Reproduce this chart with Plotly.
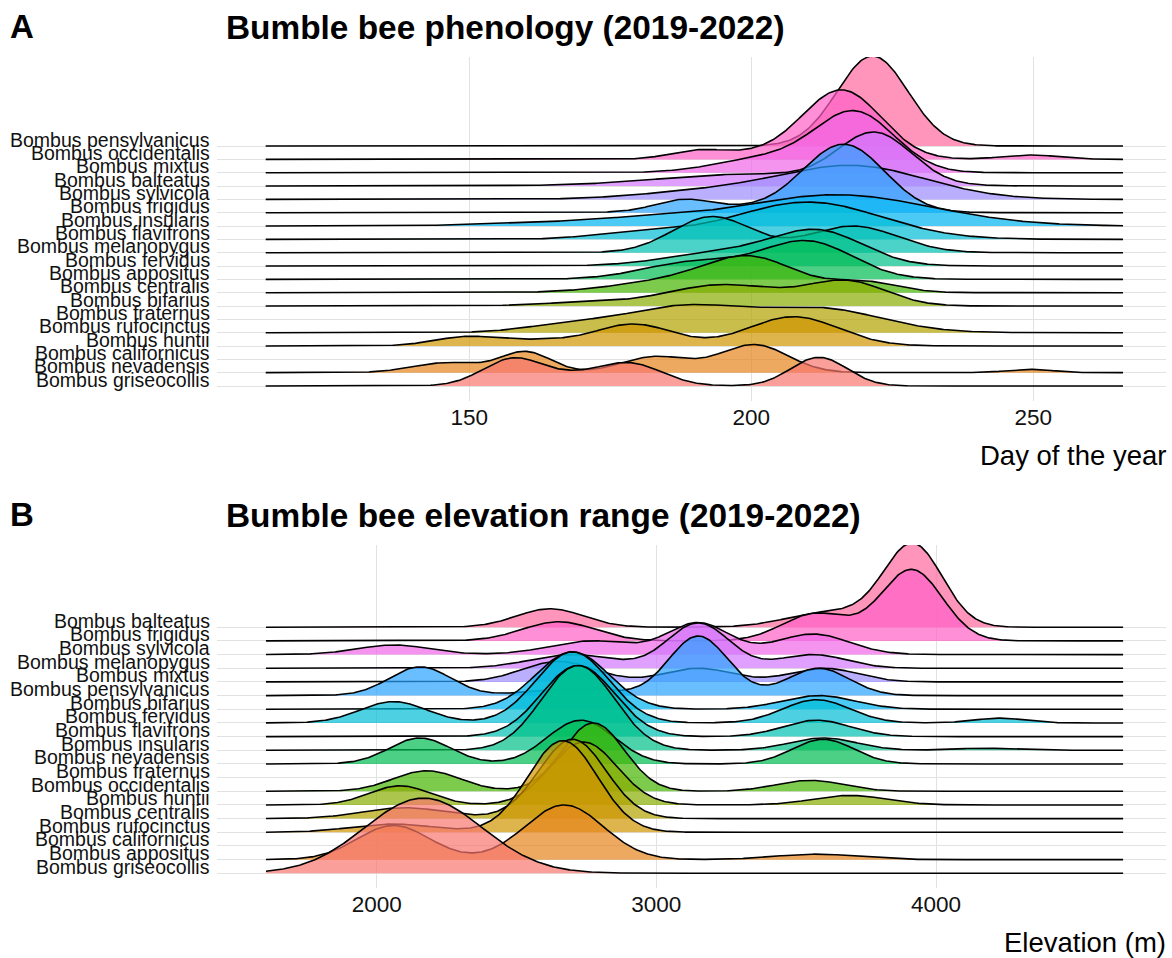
import numpy as np
import plotly.graph_objects as go

# ---------------- Panel A: phenology (day of year) ----------------
A_SPECIES = ["Bombus pensylvanicus", "Bombus occidentalis", "Bombus mixtus", "Bombus balteatus",
             "Bombus sylvicola", "Bombus frigidus", "Bombus insularis", "Bombus flavifrons",
             "Bombus melanopygus", "Bombus fervidus", "Bombus appositus", "Bombus centralis",
             "Bombus bifarius", "Bombus fraternus", "Bombus rufocinctus", "Bombus huntii",
             "Bombus californicus", "Bombus nevadensis", "Bombus griseocollis"]
# density modes: centre (day), spread (days), relative height
A_CENTERS = [[221.5], [190.5, 201, 216, 249.5], [203, 218.5], [200, 222], [192, 218],
             [188, 200, 216.5], [160, 180, 215], [180, 210], [193, 218], [195, 212],
             [190, 210], [185, 200, 220], [170, 195, 217], [], [168, 188, 212],
             [150, 163, 179, 207.5], [], [146, 160, 183, 200.5, 249.5], [158, 168, 178, 212]]
A_SPREADS = [[6.3], [5, 6, 7, 5], [9, 7], [16, 6.5], [12, 13],
             [5, 12, 7.2], [10, 10, 17], [8, 13], [7, 8], [10, 8],
             [9, 8], [10, 8, 6], [8, 10, 7], [], [8, 10, 11],
             [6, 5, 7, 8], [], [6, 4.5, 6, 6, 4], [5.5, 4, 6, 5]]
A_HEIGHTS = [[6.75], [0.65, 0.35, 5.2, 0.33], [1.1, 4.4], [0.9, 3.7], [0.55, 2.5],
             [0.8, 0.35, 5.0], [0.2, 0.45, 2.35], [0.5, 2.8], [2.7, 2.0], [1.0, 2.5],
             [1.3, 2.8], [0.8, 2.5, 0.8], [0.25, 1.6, 1.8], [], [0.6, 1.9, 1.8],
             [0.72, 0.35, 1.65, 2.2], [], [0.75, 1.55, 1.2, 2.1, 0.25], [2.1, 0.35, 1.75, 2.15]]
A_RANGE = [113.9, 266.0]
A_TICKS = [150, 200, 250]

# ---------------- Panel B: elevation (m) ----------------
B_SPECIES = ["Bombus balteatus", "Bombus frigidus", "Bombus sylvicola", "Bombus melanopygus",
             "Bombus mixtus", "Bombus pensylvanicus", "Bombus bifarius", "Bombus fervidus",
             "Bombus flavifrons", "Bombus insularis", "Bombus nevadensis", "Bombus fraternus",
             "Bombus occidentalis", "Bombus huntii", "Bombus centralis", "Bombus rufocinctus",
             "Bombus californicus", "Bombus appositus", "Bombus griseocollis"]
B_CENTERS = [[2620, 3620, 3918], [2650, 3570, 3913], [2060, 2770, 3150, 3560], [2700, 3150, 3560],
             [2650, 3150, 3600], [2155, 2700, 3150, 3580], [2700, 3580], [2060, 2700, 3573, 4228],
             [2720, 3573], [2720, 3597, 4170], [2155, 2730, 3597], [],
             [2179, 2775, 3549], [2083, 2740, 3692], [2100, 2700], [2060, 2665],
             [], [2060, 2670, 3570], [2167]]
B_SPREADS = [[120, 150, 105], [130, 120, 110], [130, 150, 110, 130], [150, 110, 120],
             [130, 120, 120], [110, 150, 105, 110], [130, 130], [120, 130, 120, 90],
             [130, 120], [130, 120, 100], [110, 120, 110], [],
             [120, 110, 120], [110, 120, 130], [150, 120], [150, 125],
             [], [130, 140, 150], [210]]
B_HEIGHTS = [[1.35, 1.1, 6.0], [1.4, 2.0, 5.2], [0.7, 1.0, 2.3, 1.5], [1.0, 3.3, 1.0],
             [1.5, 1.0, 1.0], [2.1, 0.5, 4.35, 2.0], [4.2, 1.0], [1.56, 5.2, 1.7, 0.35],
             [5.2, 1.2], [6.2, 0.9, 0.15], [1.9, 3.2, 1.8], [],
             [1.5, 5.0, 0.8], [1.4, 4.6, 0.7], [0.8, 5.8], [0.6, 6.7],
             [], [2.5, 4.0, 0.4], [5.5]]
B_RANGE = [1604, 4670]
B_TICKS = [2000, 3000, 4000]

W, H = 1172, 958
FONT = "Liberation Sans, Arial, Helvetica, sans-serif"


def hcl_hex(h, c=100.0, l=65.0):
    hr = np.deg2rad(h)
    u, v = c * np.cos(hr), c * np.sin(hr)
    Xn, Yn, Zn = 95.047, 100.0, 108.883
    den = Xn + 15 * Yn + 3 * Zn
    un, vn = 4 * Xn / den, 9 * Yn / den
    Y = Yn * ((l + 16) / 116) ** 3
    up, vp = u / (13 * l) + un, v / (13 * l) + vn
    X = Y * 9 * up / (4 * vp)
    Z = Y * (12 - 3 * up - 20 * vp) / (4 * vp)
    X, Y, Z = X / 100, Y / 100, Z / 100
    rgb = [3.2404542 * X - 1.5371385 * Y - 0.4985314 * Z,
           -0.9692660 * X + 1.8760108 * Y + 0.0415560 * Z,
           0.0556434 * X - 0.2040259 * Y + 1.0572252 * Z]
    out = []
    for ch in rgb:
        ch = 12.92 * ch if ch <= 0.0031308 else 1.055 * ch ** (1 / 2.4) - 0.055
        out.append(int(round(min(max(ch, 0), 1) * 255)))
    return out


def density(grid, centers, spreads, heights):
    y = np.zeros_like(grid)
    for c, s, h in zip(centers, spreads, heights):
        y += h * np.exp(-0.5 * ((grid - c) / s) ** 2)
    return y


fig = go.Figure()
ann = []
LABEL_FONT = dict(family=FONT, size=19.5, color="#111111")


def add_panel(species, centers, spreads, heights, xr, step, xa, ya, yref):
    n = len(species)
    present = [i for i in range(n) if len(centers[i]) > 0]
    order_bottom_up = present[::-1]
    hues = np.linspace(15, 375, len(order_bottom_up) + 1)[:-1]
    colors = {idx: hcl_hex(h) for idx, h in zip(order_bottom_up, hues)}
    grid = np.arange(xr[0], xr[1] + step / 2, step)
    for i in present:  # top row first, lower rows drawn over it
        base = n - 1 - i
        dens = density(grid, centers[i], spreads[i], heights[i])
        r, g, b = colors[i]
        fig.add_trace(go.Scatter(
            x=np.concatenate([grid, grid[::-1]]),
            y=np.concatenate([base + dens, np.full(len(grid), base)]),
            fill="toself", fillcolor=f"rgba({r},{g},{b},0.7)",
            line=dict(width=0), mode="lines", hoverinfo="skip",
            showlegend=False, xaxis=xa, yaxis=ya))
        fig.add_trace(go.Scatter(
            x=grid, y=base + dens, mode="lines",
            line=dict(color="black", width=1.6), hoverinfo="skip",
            showlegend=False, xaxis=xa, yaxis=ya))
    # species labels sit on their baselines
    for i, name in enumerate(species):
        ann.append(dict(x=212 / W, xref="paper", y=n - 1 - i, yref=yref,
                        text=name, showarrow=False, xanchor="right", yanchor="middle",
                        yshift=6.5, font=LABEL_FONT))


add_panel(A_SPECIES, A_CENTERS, A_SPREADS, A_HEIGHTS, A_RANGE, 0.25, "x", "y", "y")
add_panel(B_SPECIES, B_CENTERS, B_SPREADS, B_HEIGHTS, B_RANGE, 5, "x2", "y2", "y2")


def px_x(p):
    return p / W


def px_y(p):
    return 1 - p / H


xdom = [px_x(217), px_x(1166)]
a_scale = (1033.3 - 469.3) / 100.0
a_x0 = 150 - (469.3 - 217) / a_scale
a_x1 = 250 + (1166 - 1033.3) / a_scale
b_scale = (936.0 - 376.7) / 2000.0
b_x0 = 2000 - (376.7 - 217) / b_scale
b_x1 = 4000 + (1166 - 936.0) / b_scale

a_row = 13.33
b_row = 13.67
a_y0 = -(401 - 386) / a_row
a_y1 = (386 - 57) / a_row
b_y0 = -(888 - 873.3) / b_row
b_y1 = (873.3 - 545) / b_row

grid_col = "#E2E2E2"
tickfont_x = dict(family=FONT, size=22.5, color="#111111")

common_x = dict(showgrid=True, gridcolor=grid_col, gridwidth=1.3, zeroline=False,
                showline=False, ticks="", tickfont=tickfont_x, domain=xdom)
common_y = dict(showgrid=True, gridcolor=grid_col, gridwidth=1.3, zeroline=False,
                showline=False, ticks="", showticklabels=False)

fig.update_layout(
    width=W, height=H, margin=dict(l=0, r=0, t=0, b=0),
    paper_bgcolor="white", plot_bgcolor="white", showlegend=False,
    xaxis=dict(common_x, range=[a_x0, a_x1], tickvals=A_TICKS, anchor="y"),
    yaxis=dict(common_y, range=[a_y0, a_y1], anchor="x",
               domain=[px_y(401), px_y(57)],
               tickvals=list(range(len(A_SPECIES)))),
    xaxis2=dict(common_x, range=[b_x0, b_x1], tickvals=B_TICKS, anchor="y2"),
    yaxis2=dict(common_y, range=[b_y0, b_y1], anchor="x2",
                domain=[px_y(888), px_y(545)],
                tickvals=list(range(len(B_SPECIES)))),
)


def text(x, y, s, size, bold=False, xanchor="left"):
    ann.append(dict(x=px_x(x), y=px_y(y), xref="paper", yref="paper",
                    text=f"<b>{s}</b>" if bold else s, showarrow=False,
                    xanchor=xanchor, yanchor="middle",
                    font=dict(family=FONT, size=size, color="black")))


text(8, 27, "A", 33, bold=True)
text(224, 28, "Bumble bee phenology (2019-2022)", 33.4, bold=True)
text(1168, 455, "Day of the year", 27.5, xanchor="right")
text(8, 514, "B", 33, bold=True)
text(224, 515, "Bumble bee elevation range (2019-2022)", 33.4, bold=True)
text(1168, 942, "Elevation (m)", 27.5, xanchor="right")
fig.update_layout(annotations=ann)

fig.write_html("out.html")
